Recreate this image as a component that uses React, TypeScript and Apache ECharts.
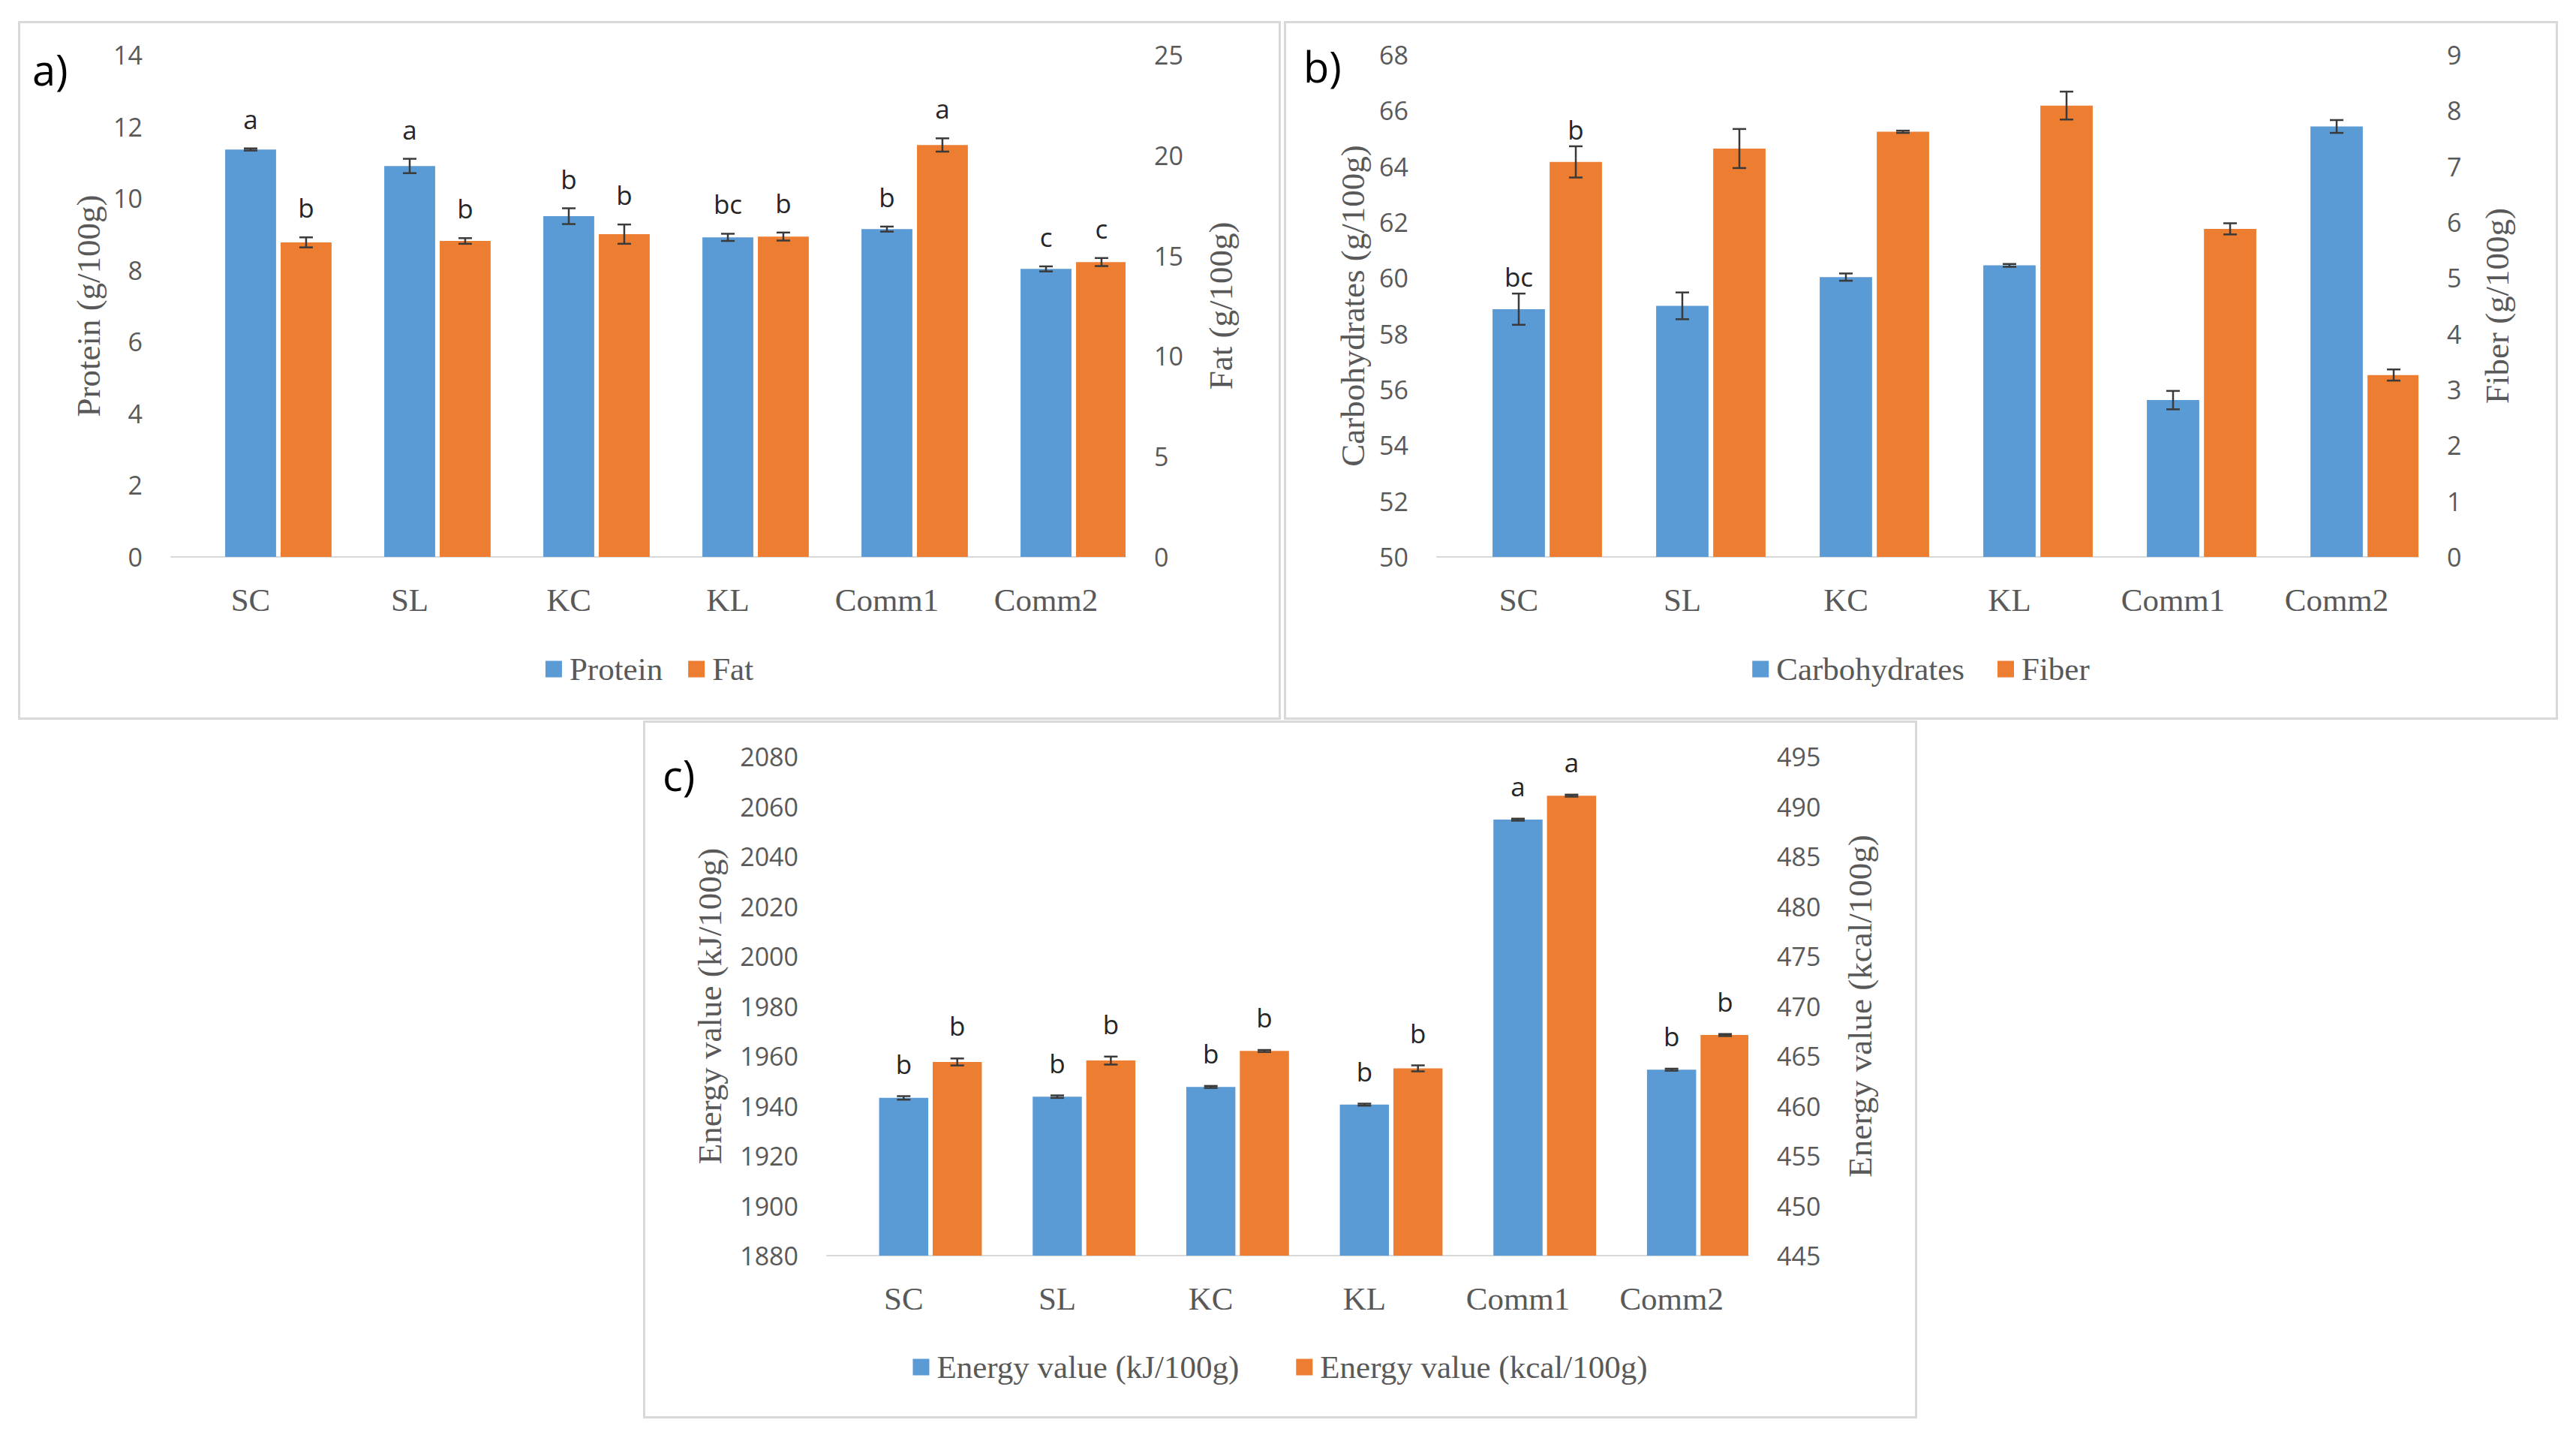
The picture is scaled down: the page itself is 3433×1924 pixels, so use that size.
import React, { useEffect, useRef } from 'react';
import * as echarts from 'echarts';

// ---------- DATA ----------
const categories = ['SC', 'SL', 'KC', 'KL', 'Comm1', 'Comm2'];

const protein = [11.36, 10.9, 9.5, 8.91, 9.14, 8.03];
const proteinErr = [0.03, 0.2, 0.22, 0.1, 0.07, 0.07];
const proteinLetters = ['a', 'a', 'b', 'bc', 'b', 'c'];
const fat = [15.66, 15.73, 16.07, 15.95, 20.51, 14.68];
const fatErr = [0.25, 0.14, 0.48, 0.2, 0.33, 0.2];
const fatLetters = ['b', 'b', 'b', 'b', 'a', 'c'];

const carbohydrates = [58.88, 59.0, 60.03, 60.45, 55.62, 65.43];
const carbohydratesErr = [0.56, 0.48, 0.13, 0.05, 0.33, 0.23];
const carbohydratesLetters = ['bc', '', '', '', '', ''];
const fiber = [7.08, 7.32, 7.62, 8.09, 5.88, 3.26];
const fiberErr = [0.28, 0.35, 0.02, 0.25, 0.1, 0.1];
const fiberLetters = ['b', '', '', '', '', ''];

const energyKJ = [1943.2, 1943.7, 1947.6, 1940.5, 2054.7, 1954.5];
const energyKJErr = [0.7, 0.5, 0.4, 0.4, 0.4, 0.4];
const energyKJLetters = ['b', 'b', 'b', 'b', 'a', 'b'];
const energyKcal = [464.4, 464.54, 465.5, 463.76, 491.08, 467.1];
const energyKcalErr = [0.35, 0.4, 0.1, 0.3, 0.1, 0.1];
const energyKcalLetters = ['b', 'b', 'b', 'b', 'a', 'b'];

// ---------- STYLE ----------
const BLUE = '#5B9BD5';
const ORANGE = '#ED7D31';
const TEXT = '#595959';
const SERIF = "'Liberation Serif', 'Times New Roman', serif";
const SANS = "'Open Sans', 'Liberation Sans', sans-serif";
const BAR_FRAC = 0.32;
const BAR_GAP = 0.09;

interface Panel {
  label: string;
  box: { left: number; top: number; width: number; height: number };
  grid: { left: number; top: number; width: number; height: number };
  labelPos: [number, number];
  leftAxis: { name: string; min: number; max: number; interval: number; nameGap: number };
  rightAxis: { name: string; min: number; max: number; interval: number; nameGap: number };
  blue: { name: string; values: number[]; errs: number[]; letters: string[] };
  orange: { name: string; values: number[]; errs: number[]; letters: string[] };
  letterGap: number;
  legendTop: number;
  legendGap: number;
}

const panels: Panel[] = [
  {
    label: 'a)',
    box: { left: 24, top: 28, width: 1683, height: 931 },
    grid: { left: 204, top: 45, width: 1272, height: 669 },
    labelPos: [19, 72],
    leftAxis: { name: 'Protein (g/100g)', min: 0, max: 14, interval: 2, nameGap: 88 },
    rightAxis: { name: 'Fat (g/100g)', min: 0, max: 25, interval: 5, nameGap: 104 },
    blue: { name: 'Protein', values: protein, errs: proteinErr, letters: proteinLetters },
    orange: { name: 'Fat', values: fat, errs: fatErr, letters: fatLetters },
    letterGap: 22,
    legendTop: 837,
    legendGap: 34,
  },
  {
    label: 'b)',
    box: { left: 1711, top: 28, width: 1698, height: 931 },
    grid: { left: 204, top: 45, width: 1308, height: 669 },
    labelPos: [26, 68],
    leftAxis: { name: 'Carbohydrates (g/100g)', min: 50, max: 68, interval: 2, nameGap: 90 },
    rightAxis: { name: 'Fiber (g/100g)', min: 0, max: 9, interval: 1, nameGap: 82 },
    blue: { name: 'Carbohydrates', values: carbohydrates, errs: carbohydratesErr, letters: carbohydratesLetters },
    orange: { name: 'Fiber', values: fiber, errs: fiberErr, letters: fiberLetters },
    letterGap: 5,
    legendTop: 837,
    legendGap: 44,
  },
  {
    label: 'c)',
    box: { left: 857, top: 960, width: 1698, height: 930 },
    grid: { left: 245, top: 48, width: 1228, height: 665 },
    labelPos: [26, 80],
    leftAxis: { name: 'Energy value (kJ/100g)', min: 1880, max: 2080, interval: 20, nameGap: 134 },
    rightAxis: { name: 'Energy value (kcal/100g)', min: 445, max: 495, interval: 5, nameGap: 126 },
    blue: { name: 'Energy value (kJ/100g)', values: energyKJ, errs: energyKJErr, letters: energyKJLetters },
    orange: { name: 'Energy value (kcal/100g)', values: energyKcal, errs: energyKcalErr, letters: energyKcalLetters },
    letterGap: 26,
    legendTop: 835,
    legendGap: 76,
  },
];

function errorSeries(values: number[], errs: number[], letters: string[], yAxisIndex: number, side: number, letterGap: number) {
  return {
    type: 'custom',
    yAxisIndex,
    silent: true,
    clip: false,
    z: 10,
    encode: { x: 0, y: 1 },
    data: values.map((v, i) => [i, v, errs[i]]),
    renderItem: (params: any, api: any) => {
      const idx = api.value(0);
      const v = api.value(1);
      const e = api.value(2);
      const band = api.size([1, 0])[0];
      const off = side * band * BAR_FRAC * (1 + BAR_GAP);
      const top = api.coord([idx, v + e]);
      const bot = api.coord([idx, v - e]);
      const x = top[0] + off;
      const cap = 9;
      const ls = { stroke: '#3a3a3a', lineWidth: 2.5 };
      const children: any[] = [
        { type: 'line', shape: { x1: x, y1: top[1], x2: x, y2: bot[1] }, style: ls },
        { type: 'line', shape: { x1: x - cap, y1: top[1], x2: x + cap, y2: top[1] }, style: ls },
        { type: 'line', shape: { x1: x - cap, y1: bot[1], x2: x + cap, y2: bot[1] }, style: ls },
      ];
      const letter = letters[params.dataIndex];
      if (letter) {
        children.push({
          type: 'text',
          x,
          y: top[1] - letterGap,
          style: {
            text: letter,
            fill: '#262626',
            fontFamily: SANS,
            fontSize: 35,
            align: 'center',
            verticalAlign: 'bottom',
          },
        });
      }
      return { type: 'group', children };
    },
  };
}

function valueAxis(ax: Panel['leftAxis'], position: string) {
  return {
    type: 'value',
    position,
    min: ax.min,
    max: ax.max,
    interval: ax.interval,
    axisLine: { show: false },
    axisTick: { show: false },
    splitLine: { show: false },
    axisLabel: { color: TEXT, fontFamily: SANS, fontSize: 34, margin: 38, formatter: (v: number) => String(v) },
    name: ax.name,
    nameLocation: 'middle',
    nameGap: ax.nameGap,
    nameRotate: 90,
    nameTextStyle: { color: TEXT, fontFamily: SERIF, fontSize: 45 },
  };
}

function buildOption(p: Panel) {
  const barCommon = { barWidth: `${BAR_FRAC * 100}%`, barGap: `${BAR_GAP * 100}%` };
  return {
    animation: false,
    graphic: [
      {
        type: 'rect',
        shape: { x: 1.5, y: 1.5, width: p.box.width - 3, height: p.box.height - 3 },
        style: { fill: 'none', stroke: '#D9D9D9', lineWidth: 3 },
        silent: true,
      },
      {
        type: 'text',
        left: p.labelPos[0],
        top: p.labelPos[1] - 36,
        style: { text: p.label, fill: '#000000', fontFamily: SANS, fontSize: 56 },
        silent: true,
      },
    ],
    legend: {
      data: [p.blue.name, p.orange.name],
      left: 'center',
      top: p.legendTop,
      icon: 'rect',
      itemWidth: 22,
      itemHeight: 22,
      itemGap: p.legendGap,
      selectedMode: false,
      textStyle: { color: TEXT, fontFamily: SERIF, fontSize: 43, padding: [0, 0, 0, 5] },
    },
    grid: { ...p.grid, containLabel: false },
    xAxis: {
      type: 'category',
      data: categories,
      axisTick: { show: false },
      axisLine: { lineStyle: { color: '#D9D9D9', width: 2 } },
      axisLabel: { color: TEXT, fontFamily: SERIF, fontSize: 43, margin: 36 },
    },
    yAxis: [valueAxis(p.leftAxis, 'left'), valueAxis(p.rightAxis, 'right')],
    series: [
      { type: 'bar', name: '_pad', data: categories.map(() => '-'), yAxisIndex: 0, silent: true, ...barCommon },
      { type: 'bar', name: p.blue.name, data: p.blue.values, yAxisIndex: 0, itemStyle: { color: BLUE }, ...barCommon },
      { type: 'bar', name: p.orange.name, data: p.orange.values, yAxisIndex: 1, itemStyle: { color: ORANGE }, ...barCommon },
      errorSeries(p.blue.values, p.blue.errs, p.blue.letters, 0, 0, p.letterGap),
      errorSeries(p.orange.values, p.orange.errs, p.orange.letters, 1, 1, p.letterGap),
    ],
  };
}

function ChartPanel({ panel }: { panel: Panel }) {
  const ref = useRef<HTMLDivElement>(null);
  useEffect(() => {
    if (!ref.current) return;
    const chart = echarts.init(ref.current, undefined, { renderer: 'svg' });
    chart.setOption(buildOption(panel) as any);
    return () => chart.dispose();
  }, [panel]);
  return (
    <div
      ref={ref}
      style={{
        position: 'absolute',
        left: panel.box.left,
        top: panel.box.top,
        width: panel.box.width,
        height: panel.box.height,
      }}
    />
  );
}

export default function App() {
  return (
    <div style={{ position: 'absolute', left: 0, top: 0, width: 3433, height: 1924, background: '#ffffff', overflow: 'hidden' }}>
      {panels.map((p) => (
        <ChartPanel key={p.label} panel={p} />
      ))}
    </div>
  );
}
